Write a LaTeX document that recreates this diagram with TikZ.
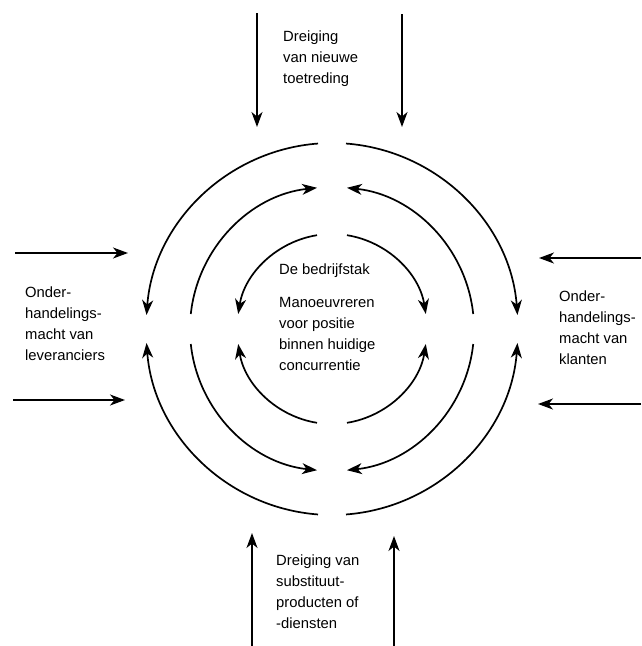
\documentclass[tikz,border=0pt]{standalone}
\usepackage{fontspec}
\setmainfont{Liberation Sans}
\usetikzlibrary{arrows.meta}
\tikzset{
  forcetext/.style={align=left,inner sep=0pt,anchor=north west,font=\fontsize{14.8}{21}\selectfont},
  force/.style={->,line width=1.7pt},
}

\begin{document}
\begin{tikzpicture}[x=1pt,y=1pt,>={Stealth[length=15pt,width=11pt,inset=4.5pt]}]
\useasboundingbox (0,0) rectangle (641,-646);
\coordinate (c) at (332,-329);
% outer and inner ring point sideways
\foreach \r/\g in {186/14,95/15} {
  \pgfmathsetmacro\d{asin(\g/\r)}
  \draw[force] (c) ++({90+\d}:\r) arc[start angle={90+\d},end angle={180-\d},radius=\r];
  \draw[force] (c) ++({270-\d}:\r) arc[start angle={270-\d},end angle={180+\d},radius=\r];
  \draw[force] (c) ++({90-\d}:\r) arc[start angle={90-\d},end angle={\d},radius=\r];
  \draw[force] (c) ++({270+\d}:\r) arc[start angle={270+\d},end angle={360-\d},radius=\r];
}
% middle ring points up and down
\pgfmathsetmacro\dm{asin(15/142)}
\draw[force] (c) ++({180-\dm}:142) arc[start angle={180-\dm},end angle={90+\dm},radius=142];
\draw[force] (c) ++({\dm}:142) arc[start angle={\dm},end angle={90-\dm},radius=142];
\draw[force] (c) ++({180+\dm}:142) arc[start angle={180+\dm},end angle={270-\dm},radius=142];
\draw[force] (c) ++({-\dm}:142) arc[start angle={-\dm},end angle={-90+\dm},radius=142];

% the four outside forces
\coordinate (t1s) at (257,-13);  \coordinate (t1e) at (257,-127);
\coordinate (t2s) at (402,-14);  \coordinate (t2e) at (402,-127);
\coordinate (l1s) at (15,-253);  \coordinate (l1e) at (128,-253);
\coordinate (l2s) at (13,-400);  \coordinate (l2e) at (125,-400);
\coordinate (r1s) at (641,-258); \coordinate (r1e) at (539,-258);
\coordinate (r2s) at (641,-404); \coordinate (r2e) at (538,-404);
\coordinate (b1s) at (252,-646); \coordinate (b1e) at (252,-533);
\coordinate (b2s) at (394,-646); \coordinate (b2e) at (394,-536);
\draw[force] (t1s) -- (t1e);
\draw[force] (t2s) -- (t2e);
\draw[force] (l1s) -- (l1e);
\draw[force] (l2s) -- (l2e);
\draw[force] (r1s) -- (r1e);
\draw[force] (r2s) -- (r2e);
\draw[force] (b1s) -- (b1e);
\draw[force] (b2s) -- (b2e);

\node[forcetext] (entrants) at (283,-30.5) {Dreiging\\van nieuwe\\toetreding};
\node[forcetext] (suppliers) at (25,-287) {Onder-\\handelings-\\macht van\\leveranciers};
\node[forcetext] (buyers) at (559,-291) {Onder-\\handelings-\\macht van\\klanten};
\node[forcetext] (substitutes) at (276,-555) {Dreiging van\\substituut-\\producten of\\-diensten};
\node[forcetext] (industry) at (279,-264) {De bedrijfstak};
\node[forcetext] (rivalry) at (279,-297) {Manoeuvreren\\voor positie\\binnen huidige\\concurrentie};
\end{tikzpicture}
\end{document}
